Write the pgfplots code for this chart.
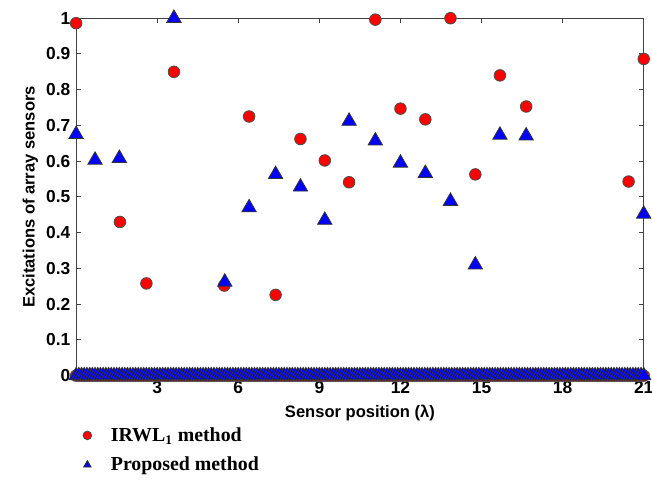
\documentclass[border=0pt]{standalone}
\usepackage{fontspec}
\setmainfont{Liberation Sans}
\newfontfamily\legserif{Liberation Serif}
\usepackage{pgfplots}
\pgfplotsset{compat=1.18}
\usepackage{pgfplotstable}
\definecolor{mred}{HTML}{FF0000}
\definecolor{mblue}{HTML}{0000FF}

% nonzero excitations
\pgfplotstableread{
x y
0.00 0.986
1.62 0.430
2.60 0.258
3.62 0.850
5.48 0.252
6.40 0.725
7.38 0.226
8.30 0.662
9.20 0.602
10.10 0.541
11.07 0.996
12.00 0.747
12.92 0.717
13.85 1.000
14.77 0.563
15.68 0.840
16.65 0.753
20.44 0.543
21.00 0.886
}\irwl

\pgfplotstableread{
x y
0.00 0.675
0.70 0.603
1.60 0.608
3.62 1.000
5.50 0.262
6.40 0.470
7.38 0.563
8.30 0.528
9.20 0.435
10.10 0.712
11.07 0.657
12.00 0.595
12.92 0.566
13.85 0.488
14.77 0.310
15.68 0.673
16.65 0.671
21.00 0.452
}\prop

% sensors with zero excitation (0.1 lambda grid)
\pgfplotstableread[row sep=\\]{
x y\\
0 0\\ 0.1 0\\ 0.2 0\\ 0.3 0\\ 0.4 0\\ 0.5 0\\ 0.6 0\\ 0.7 0\\ 0.8 0\\ 0.9 0\\
1 0\\ 1.1 0\\ 1.2 0\\ 1.3 0\\ 1.4 0\\ 1.5 0\\ 1.6 0\\ 1.7 0\\ 1.8 0\\ 1.9 0\\
2 0\\ 2.1 0\\ 2.2 0\\ 2.3 0\\ 2.4 0\\ 2.5 0\\ 2.6 0\\ 2.7 0\\ 2.8 0\\ 2.9 0\\
3 0\\ 3.1 0\\ 3.2 0\\ 3.3 0\\ 3.4 0\\ 3.5 0\\ 3.6 0\\ 3.7 0\\ 3.8 0\\ 3.9 0\\
4 0\\ 4.1 0\\ 4.2 0\\ 4.3 0\\ 4.4 0\\ 4.5 0\\ 4.6 0\\ 4.7 0\\ 4.8 0\\ 4.9 0\\
5 0\\ 5.1 0\\ 5.2 0\\ 5.3 0\\ 5.4 0\\ 5.5 0\\ 5.6 0\\ 5.7 0\\ 5.8 0\\ 5.9 0\\
6 0\\ 6.1 0\\ 6.2 0\\ 6.3 0\\ 6.4 0\\ 6.5 0\\ 6.6 0\\ 6.7 0\\ 6.8 0\\ 6.9 0\\
7 0\\ 7.1 0\\ 7.2 0\\ 7.3 0\\ 7.4 0\\ 7.5 0\\ 7.6 0\\ 7.7 0\\ 7.8 0\\ 7.9 0\\
8 0\\ 8.1 0\\ 8.2 0\\ 8.3 0\\ 8.4 0\\ 8.5 0\\ 8.6 0\\ 8.7 0\\ 8.8 0\\ 8.9 0\\
9 0\\ 9.1 0\\ 9.2 0\\ 9.3 0\\ 9.4 0\\ 9.5 0\\ 9.6 0\\ 9.7 0\\ 9.8 0\\ 9.9 0\\
10 0\\ 10.1 0\\ 10.2 0\\ 10.3 0\\ 10.4 0\\ 10.5 0\\ 10.6 0\\ 10.7 0\\ 10.8 0\\ 10.9 0\\
11 0\\ 11.1 0\\ 11.2 0\\ 11.3 0\\ 11.4 0\\ 11.5 0\\ 11.6 0\\ 11.7 0\\ 11.8 0\\ 11.9 0\\
12 0\\ 12.1 0\\ 12.2 0\\ 12.3 0\\ 12.4 0\\ 12.5 0\\ 12.6 0\\ 12.7 0\\ 12.8 0\\ 12.9 0\\
13 0\\ 13.1 0\\ 13.2 0\\ 13.3 0\\ 13.4 0\\ 13.5 0\\ 13.6 0\\ 13.7 0\\ 13.8 0\\ 13.9 0\\
14 0\\ 14.1 0\\ 14.2 0\\ 14.3 0\\ 14.4 0\\ 14.5 0\\ 14.6 0\\ 14.7 0\\ 14.8 0\\ 14.9 0\\
15 0\\ 15.1 0\\ 15.2 0\\ 15.3 0\\ 15.4 0\\ 15.5 0\\ 15.6 0\\ 15.7 0\\ 15.8 0\\ 15.9 0\\
16 0\\ 16.1 0\\ 16.2 0\\ 16.3 0\\ 16.4 0\\ 16.5 0\\ 16.6 0\\ 16.7 0\\ 16.8 0\\ 16.9 0\\
17 0\\ 17.1 0\\ 17.2 0\\ 17.3 0\\ 17.4 0\\ 17.5 0\\ 17.6 0\\ 17.7 0\\ 17.8 0\\ 17.9 0\\
18 0\\ 18.1 0\\ 18.2 0\\ 18.3 0\\ 18.4 0\\ 18.5 0\\ 18.6 0\\ 18.7 0\\ 18.8 0\\ 18.9 0\\
19 0\\ 19.1 0\\ 19.2 0\\ 19.3 0\\ 19.4 0\\ 19.5 0\\ 19.6 0\\ 19.7 0\\ 19.8 0\\ 19.9 0\\
20 0\\ 20.1 0\\ 20.2 0\\ 20.3 0\\ 20.4 0\\ 20.5 0\\ 20.6 0\\ 20.7 0\\ 20.8 0\\ 20.9 0\\
21 0\\
}\zerorow

\begin{document}
\begin{tikzpicture}[trim right=348pt]
\begin{axis}[
  scale only axis,
  width=343pt, height=216pt,
  xmin=0, xmax=21, ymin=0, ymax=1,
  xtick={3,6,...,21},
  ytick={0,0.1,...,1},
  yticklabels={0,0.1,0.2,0.3,0.4,0.5,0.6,0.7,0.8,0.9,1},
  tick align=inside, major tick length=3pt,
  axis line style={black!75, line width=0.6pt},
  tick style={black!75, line width=0.6pt},
  /pgf/number format/assume math mode=true,
  tick label style={font=\fontsize{10.5}{12}\selectfont\bfseries},
  xlabel={Sensor position (λ)},
  ylabel={Excitations of array sensors},
  label style={font=\fontsize{10}{12}\selectfont\bfseries},
  xlabel style={yshift=0pt},
  ylabel style={yshift=-2pt},
  clip=false,
  legend style={draw=none, fill=none, at={(0,0)}, anchor=north west,
    xshift=1pt, yshift=-27pt,
    font=\legserif\fontsize{12}{14}\selectfont\bfseries,
    row sep=4pt, cells={anchor=west}},
  legend image code/.code={%
    \draw[#1, mark size=2.6pt] plot coordinates {(0pt,0pt)};
    \path (12pt,0pt);},
]
\addplot[only marks, mark=*, mark size=3.5pt,
  mark options={fill=mred, draw=black!70, line width=0.5pt}]
  table {\irwl};
\addlegendentry{IRWL\textsubscript{1} method}
\addplot[only marks, mark=triangle*, mark size=5pt,
  mark options={fill=mblue, draw=black!80, line width=0.5pt}]
  table {\prop};
\addlegendentry{Proposed method}
\addplot[only marks, mark=*, mark size=3.5pt, forget plot,
  mark options={fill=mred, draw=black!70, line width=0.5pt}]
  table {\zerorow};
\addplot[only marks, mark=triangle*, mark size=5pt, forget plot,
  mark options={fill=mblue, draw=black!80, line width=0.5pt}]
  table {\zerorow};
\path (rel axis cs:0,1) ++(-46pt,11pt);
\end{axis}
\end{tikzpicture}
\end{document}
